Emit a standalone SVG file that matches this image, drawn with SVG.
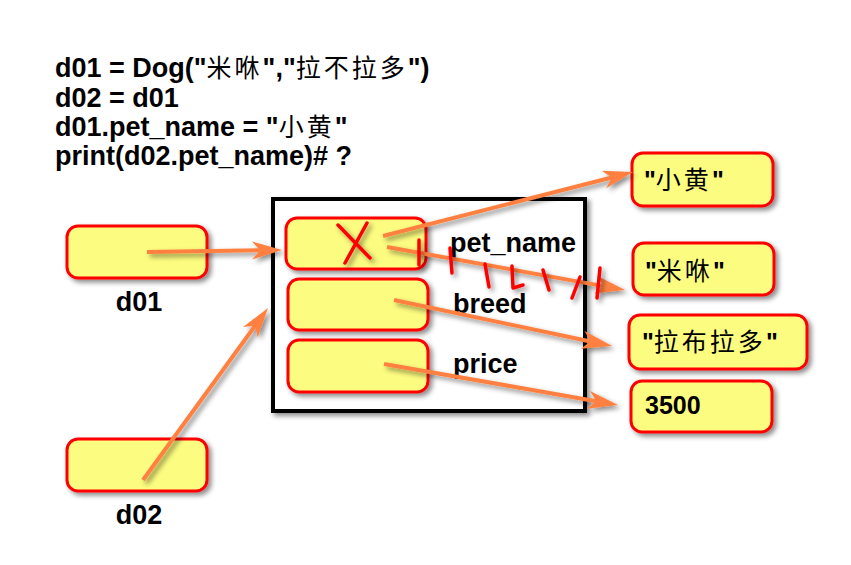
<svg xmlns="http://www.w3.org/2000/svg" width="851" height="565" viewBox="0 0 851 565">
<style>
.code{font-family:"Liberation Sans",Arial,sans-serif;font-weight:bold;font-size:27px;fill:#000}
.cjk{font-family:"Noto Sans CJK SC","Liberation Sans",sans-serif;font-weight:normal;font-size:25px;letter-spacing:3px}
.lbl{font-family:"Liberation Sans",Arial,sans-serif;font-weight:bold;font-size:27px;fill:#000}
.val{font-family:"Liberation Sans","Noto Sans CJK SC",sans-serif;font-weight:bold;font-size:25px;fill:#000}
.box{fill:#fcfc80;stroke:#ff0000;stroke-width:3}
.arr{stroke:#ff8040;stroke-width:4;fill:none;marker-end:url(#ah)}
.pen{stroke:#ff0000;stroke-width:3.5;fill:none;stroke-linecap:round;stroke-linejoin:round}
</style>
<defs>
<filter id="sh" x="-20%" y="-20%" width="150%" height="150%">
<feDropShadow dx="3" dy="3" stdDeviation="2.5" flood-color="#000" flood-opacity="0.45"/>
</filter>
<marker id="ah" markerUnits="userSpaceOnUse" markerWidth="32" markerHeight="20" refX="8" refY="9" orient="auto">
<path d="M0,0 L30,9 L0,18 L8,9 z" fill="#ff8040"/>
</marker>
</defs>
<rect width="851" height="565" fill="#fff"/>
<g id="code">
<text class="code" x="55" y="77">d01 = Dog("<tspan class="cjk">米咻</tspan>","<tspan class="cjk">拉不拉多</tspan>")</text>
<text class="code" x="55" y="107">d02 = d01</text>
<text class="code" x="55" y="136">d01.pet_name = "<tspan class="cjk">小黄</tspan>"</text>
<text class="code" x="55" y="165">print(d02.pet_name)# ?</text>
</g>
<g id="dog" filter="url(#sh)">
<rect x="273" y="199" width="312" height="212" fill="#fff" stroke="#000" stroke-width="4"/>
</g>
<g id="field_pet_name"><rect class="box" x="286" y="218" width="140" height="51" rx="11" filter="url(#sh)"/><text class="lbl" x="450" y="252">pet_name</text></g>
<g id="field_breed"><rect class="box" x="288" y="279" width="140" height="51" rx="11" filter="url(#sh)"/><text class="lbl" x="453" y="313">breed</text></g>
<g id="field_price"><rect class="box" x="288" y="340" width="140" height="52" rx="11" filter="url(#sh)"/><text class="lbl" x="453" y="373">price</text></g>
<g id="d01"><rect class="box" x="67" y="226" width="140" height="52" rx="11" filter="url(#sh)"/><text class="lbl" x="139" y="311" text-anchor="middle">d01</text></g>
<g id="d02"><rect class="box" x="67" y="439" width="140" height="52" rx="11" filter="url(#sh)"/><text class="lbl" x="139" y="524" text-anchor="middle">d02</text></g>
<g id="v_xiaohuang"><rect class="box" x="632" y="153" width="141" height="53" rx="11" filter="url(#sh)"/><text class="val" x="644" y="189">"<tspan class="cjk" font-size="25" letter-spacing="2">小黄</tspan>"</text></g>
<g id="v_mixiu"><rect class="box" x="633" y="243" width="141" height="52" rx="11" filter="url(#sh)"/><text class="val" x="645" y="280">"<tspan class="cjk" font-size="25" letter-spacing="2">米咻</tspan>"</text></g>
<g id="v_labuladuo"><rect class="box" x="629" y="315" width="178" height="54" rx="11" filter="url(#sh)"/><text class="val" x="642" y="351">"<tspan class="cjk" font-size="22" letter-spacing="2">拉布拉多</tspan>"</text></g>
<g id="v_3500"><rect class="box" x="631" y="381" width="141" height="51" rx="11" filter="url(#sh)"/><text class="val" x="645" y="414">3500</text></g>
<g id="connectors" filter="url(#sh)">
<line class="arr" x1="147" y1="252" x2="260" y2="250.3"/>
<line class="arr" x1="143" y1="480" x2="255.1" y2="325.8"/>
<line class="arr" x1="383" y1="236" x2="611.7" y2="177.5"/>
<line class="arr" x1="387" y1="247" x2="603.4" y2="286.1"/>
<line class="arr" x1="394" y1="300" x2="590.5" y2="341.5"/>
<line class="arr" x1="384" y1="364" x2="596.3" y2="401.2"/>
</g>
<g id="marks" filter="url(#sh)">
<path class="pen" d="M338,225 L370,258 M367,223 L345,263"/>
<path class="pen" d="M419,240 L419,265"/>
<path class="pen" d="M450,248 L452,273"/>
<path class="pen" d="M485,264 L489,287"/>
<path class="pen" d="M512,266 L513,288 L523,285"/>
<path class="pen" d="M543,270 L549,290"/>
<path class="pen" d="M580,277 L572,298"/>
<path class="pen" d="M600,268 L597,298"/>
</g>
</svg>
